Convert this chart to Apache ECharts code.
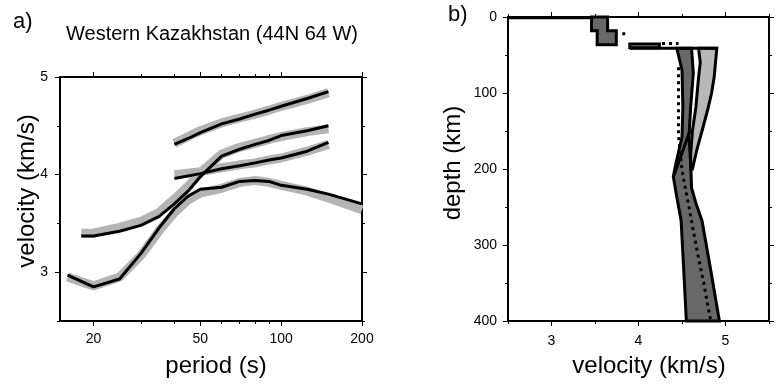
<!DOCTYPE html>
<html><head><meta charset="utf-8">
<script src="https://cdn.jsdelivr.net/npm/echarts@6/dist/echarts.min.js"></script>
<style>html,body{margin:0;padding:0;background:#fff}#c{width:777px;height:386px}</style>
</head><body><div id="c"></div>
<script>
// ---------- Panel a: dispersion curves (period s, velocity km/s) ----------
const periodsA = [40,45,50,60,70,80,90,100,125,150];
const velA     = [4.31,4.37,4.43,4.52,4.57,4.62,4.66,4.70,4.78,4.85];
const bandA    = [4.32,4.39,4.45,4.53,4.58,4.62,4.66,4.70,4.77,4.84];
const periodsD = [18,20,25,30,35,40,45,50,60,70,80,90,100,125,150];
const velD     = [3.37,3.37,3.42,3.48,3.57,3.70,3.83,3.98,4.19,4.26,4.31,4.35,4.40,4.45,4.50];
const bandD    = [3.40,3.40,3.46,3.52,3.61,3.75,3.88,4.02,4.21,4.28,4.32,4.36,4.39,4.44,4.47];
const periodsC = [16,20,25,30,35,40,45,50,60,70,80,90,100,125,150,200];
const velC     = [2.97,2.85,2.93,3.19,3.45,3.65,3.78,3.85,3.87,3.93,3.94,3.93,3.89,3.85,3.80,3.70];
const bandC    = [2.95,2.86,2.95,3.17,3.42,3.61,3.74,3.81,3.86,3.92,3.94,3.92,3.89,3.83,3.76,3.64];
const periodsE = [40,50,60,70,80,90,100,125,150];
const velE     = [3.96,4.01,4.06,4.09,4.12,4.15,4.17,4.24,4.33];
const bandE    = [4.00,4.03,4.07,4.10,4.12,4.15,4.17,4.24,4.31];
const periodMajorTicks = [20,50,100,200];
const periodMinorTicks = [30,40,60,70,80,90];
const velMajorTicksA = [3,4,5];
const velMinorTicksA = [2.5,3.5,4.5];

// ---------- Panel b: velocity models (velocity km/s, depth km) ----------
const surfV = [2.5,3.46];            const surfD = [1,1];
const crustV = [3.46,3.645,3.645,3.745,3.745,3.525,3.525,3.46];
const crustD = [0,0,18,18,36.5,36.5,18,18];
const lcV = [3.9,4.24,4.24,3.9];     const lcD = [35.5,35.5,40.5,40.5];
const mohoV = [3.9,4.91];            const mohoD = [41,41];
const darkV = [4.44,4.50,4.51,4.50,4.43,4.40,4.44,4.49,4.52,4.55, 4.93,4.83,4.73,4.66,4.61,4.60,4.58,4.60,4.63,4.61];
const darkD = [41,70,118,158,193,210,237,268,333,400, 400,333,268,245,225,193,158,118,74,41];
const lightV = [4.69,4.71,4.69,4.66,4.62,4.60,4.60, 4.62,4.67,4.73,4.80,4.84,4.87,4.90];
const lightD = [41,60,80,118,150,180,200, 200,175,150,120,100,79,41];
const crossV = [4.59,4.41];          const crossD = [150,208];
const ref1V = [3.83,3.83];           const ref1D = [20,25];
const ref2V = [4.27,4.46];           const ref2D = [35,35];
const ref3V = [4.46,4.46,4.50,4.58,4.66,4.75,4.83];
const ref3D = [66,155,202,250,300,350,400];
const vMajorTicksB = [3,4,5];
const vMinorTicksB = [2.5,3.5,4.5,5.5];
const depthMajorTicks = [0,100,200,300,400];
const depthMinorTicks = [50,150,250,350];

const FONT = '"Liberation Sans", Arial, Helvetica, sans-serif';
const lg = Math.log10;
const pairs = (xs, ys, fx) => xs.map((x,i)=>[fx?fx(x):x, ys[i]]);

function axis(o){
  return {
    type:'value', gridIndex:o.grid, min:o.min, max:o.max, position:o.pos, inverse:!!o.inverse,
    splitLine:{show:false},
    axisLine:{show:!!o.line, onZero:false, lineStyle:{color:'#000', width:2}},
    axisTick:{show:true, inside:false, length:o.tickLen, customValues:o.ticks, lineStyle:{color:'#000', width:1}},
    axisLabel:{show:!!o.labels, customValues:o.ticks, margin:o.margin||8, color:'#000', fontSize:14, fontFamily:FONT, formatter:o.fmt}
  };
}

const xMinA = lg(15), xMaxA = lg(200);
const xAxes = [
  axis({grid:0,min:xMinA,max:xMaxA,pos:'bottom',line:true,labels:true,tickLen:5,ticks:periodMajorTicks.map(lg),margin:11,fmt:v=>String(Math.round(Math.pow(10,v)))}),
  axis({grid:0,min:xMinA,max:xMaxA,pos:'bottom',tickLen:3,ticks:periodMinorTicks.map(lg)}),
  axis({grid:0,min:xMinA,max:xMaxA,pos:'top',line:true,tickLen:5,ticks:periodMajorTicks.map(lg)}),
  axis({grid:0,min:xMinA,max:xMaxA,pos:'top',tickLen:3,ticks:periodMinorTicks.map(lg)}),
  axis({grid:1,min:2.5,max:5.5,pos:'bottom',line:true,labels:true,tickLen:5,ticks:vMajorTicksB,margin:13,fmt:v=>String(v)}),
  axis({grid:1,min:2.5,max:5.5,pos:'bottom',tickLen:3,ticks:vMinorTicksB}),
  axis({grid:1,min:2.5,max:5.5,pos:'top',line:true,tickLen:5,ticks:vMajorTicksB}),
  axis({grid:1,min:2.5,max:5.5,pos:'top',tickLen:3,ticks:vMinorTicksB})
];
const yAxes = [
  axis({grid:0,min:2.5,max:5,pos:'left',line:true,labels:true,tickLen:5,ticks:velMajorTicksA,margin:12,fmt:v=>String(v)}),
  axis({grid:0,min:2.5,max:5,pos:'left',tickLen:3,ticks:velMinorTicksA}),
  axis({grid:0,min:2.5,max:5,pos:'right',line:true,tickLen:5,ticks:velMajorTicksA}),
  axis({grid:0,min:2.5,max:5,pos:'right',tickLen:3,ticks:velMinorTicksA}),
  axis({grid:1,min:0,max:400,pos:'left',inverse:true,line:true,labels:true,tickLen:5,ticks:depthMajorTicks,margin:11,fmt:v=>String(v)}),
  axis({grid:1,min:0,max:400,pos:'left',inverse:true,tickLen:3,ticks:depthMinorTicks}),
  axis({grid:1,min:0,max:400,pos:'right',inverse:true,line:true,tickLen:5,ticks:depthMajorTicks}),
  axis({grid:1,min:0,max:400,pos:'right',inverse:true,tickLen:3,ticks:depthMinorTicks})
];

function lineA(ps, vs, color, width){
  return {type:'line', xAxisIndex:0, yAxisIndex:0, data:pairs(ps, vs, lg), showSymbol:false, symbol:'none',
    lineStyle:{color:color, width:width, cap:'butt', join:'round'}, silent:true, z: color==='#000'?3:2};
}
function lineB(vs, ds, width, dash, z){
  return {type:'line', xAxisIndex:4, yAxisIndex:4, data:pairs(vs, ds), showSymbol:false, symbol:'none',
    lineStyle:{color:'#000', width:width, type:dash||'solid', cap:'butt', join:'miter'}, silent:true, z:z||4};
}
function polyB(vs, ds, fill, z){
  const pts = pairs(vs, ds);
  return {type:'custom', xAxisIndex:4, yAxisIndex:4, data:pts, silent:true, z:z||3,
    renderItem:(params, api)=>{
      if (params.dataIndex !== 0) return null;
      return {type:'polygon', shape:{points:pts.map(p=>api.coord(p))},
        style:{fill:fill, stroke:'#000', lineWidth:3, lineJoin:'miter'}};
    }};
}

const GRAY = '#b4b4b4';
const series = [
  lineA(periodsA, bandA, GRAY, 9), lineA(periodsD, bandD, GRAY, 9), lineA(periodsC, bandC, GRAY, 9), lineA(periodsE, bandE, GRAY, 9),
  lineA(periodsA, velA, '#000', 3), lineA(periodsD, velD, '#000', 3), lineA(periodsC, velC, '#000', 3), lineA(periodsE, velE, '#000', 3),
  polyB(darkV, darkD, '#686868', 3),
  polyB(lightV, lightD, '#b8b8b8', 3),
  polyB(crustV, crustD, '#686868', 3),
  polyB(lcV, lcD, '#b0b0b0', 3),
  lineB(mohoV, mohoD, 3, 'solid', 4),
  lineB(crossV, crossD, 3, 'solid', 4),
  lineB(surfV, surfD, 3, 'solid', 4),
  lineB(ref1V, ref1D, 3, [3,4], 5),
  lineB(ref2V, ref2D, 3, [3,4], 5),
  lineB(ref3V, ref3D, 3, [3,4], 5)
];

function txt(text, x, y, size, opts){
  return Object.assign({type:'text', x:x, y:y, silent:true, z:10,
    style:{text:text, fontSize:size, fontFamily:FONT, fill:'#000', textAlign:(opts&&opts.align)||'center', textVerticalAlign:'middle'}},
    opts&&opts.rot?{rotation:opts.rot}:{});
}

const chart = echarts.init(document.getElementById('c'), null, {renderer:'canvas'});
chart.setOption({
  animation:false,
  backgroundColor:'#fff',
  grid:[
    {left:60, top:77, width:302, height:244},
    {left:508, top:17, width:261, height:304}
  ],
  xAxis:xAxes,
  yAxis:yAxes,
  series:series,
  graphic:[
    txt('a)', 13, 22, 22, {align:'left'}),
    txt('Western Kazakhstan (44N 64 W)', 66, 34, 20, {align:'left'}),
    txt('velocity (km/s)', 27, 191, 24, {rot:Math.PI/2}),
    txt('period (s)', 216, 366, 24),
    txt('b)', 448, 15, 22, {align:'left'}),
    txt('depth (km)', 453, 163, 24, {rot:Math.PI/2}),
    txt('velocity (km/s)', 649, 366, 24)
  ]
});
</script></body></html>
